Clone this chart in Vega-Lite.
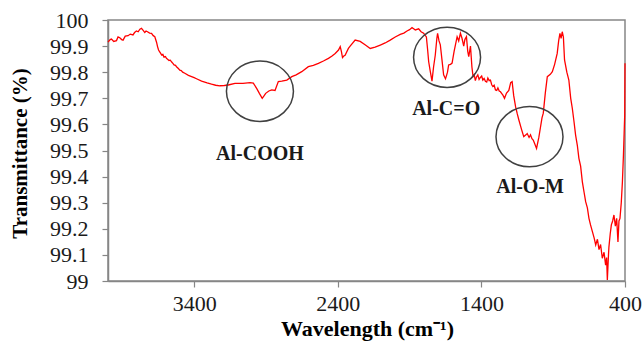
{
  "$schema": "https://vega.github.io/schema/vega-lite/v6.json",
  "width": 517,
  "height": 261,
  "autosize": "none",
  "padding": {"left": 108, "top": 20, "right": 19, "bottom": 65},
  "background": "white",
  "config": {
    "view": {"stroke": "#868686", "strokeWidth": 1.5},
    "font": "Liberation Serif",
    "text": {"font": "Liberation Serif"},
    "axis": {
      "grid": false,
      "domainColor": "#868686",
      "domainWidth": 1.5,
      "tickColor": "#868686",
      "tickWidth": 1.2,
      "tickSize": 6,
      "labelFont": "Liberation Serif",
      "labelFontSize": 22,
      "labelColor": "#1a1a1a",
      "titleFont": "Liberation Serif",
      "titleFontSize": 21,
      "titleFontWeight": "bold",
      "titleColor": "#000000",
      "labelFlush": false,
      "labelOverlap": false
    }
  },
  "datasets": {
    "spectrum": [
      {"wavenumber": 4000, "transmittance": 99.915},
      {"wavenumber": 3985, "transmittance": 99.925},
      {"wavenumber": 3976, "transmittance": 99.927},
      {"wavenumber": 3960, "transmittance": 99.918},
      {"wavenumber": 3941, "transmittance": 99.921},
      {"wavenumber": 3930, "transmittance": 99.935},
      {"wavenumber": 3918, "transmittance": 99.932},
      {"wavenumber": 3905, "transmittance": 99.925},
      {"wavenumber": 3895, "transmittance": 99.923},
      {"wavenumber": 3880, "transmittance": 99.938},
      {"wavenumber": 3860, "transmittance": 99.94},
      {"wavenumber": 3845, "transmittance": 99.946},
      {"wavenumber": 3826, "transmittance": 99.943},
      {"wavenumber": 3815, "transmittance": 99.952},
      {"wavenumber": 3802, "transmittance": 99.958},
      {"wavenumber": 3790, "transmittance": 99.955},
      {"wavenumber": 3778, "transmittance": 99.965},
      {"wavenumber": 3767, "transmittance": 99.968},
      {"wavenumber": 3755, "transmittance": 99.96},
      {"wavenumber": 3744, "transmittance": 99.952},
      {"wavenumber": 3735, "transmittance": 99.958},
      {"wavenumber": 3725, "transmittance": 99.955},
      {"wavenumber": 3710, "transmittance": 99.95},
      {"wavenumber": 3697, "transmittance": 99.949},
      {"wavenumber": 3685, "transmittance": 99.94},
      {"wavenumber": 3674, "transmittance": 99.936},
      {"wavenumber": 3662, "transmittance": 99.915},
      {"wavenumber": 3655, "transmittance": 99.898},
      {"wavenumber": 3648, "transmittance": 99.885},
      {"wavenumber": 3640, "transmittance": 99.878},
      {"wavenumber": 3633, "transmittance": 99.872},
      {"wavenumber": 3627, "transmittance": 99.866},
      {"wavenumber": 3618, "transmittance": 99.868},
      {"wavenumber": 3610, "transmittance": 99.858},
      {"wavenumber": 3600, "transmittance": 99.86},
      {"wavenumber": 3593, "transmittance": 99.853},
      {"wavenumber": 3583, "transmittance": 99.849},
      {"wavenumber": 3575, "transmittance": 99.845},
      {"wavenumber": 3566, "transmittance": 99.846},
      {"wavenumber": 3558, "transmittance": 99.84},
      {"wavenumber": 3548, "transmittance": 99.834},
      {"wavenumber": 3540, "transmittance": 99.828},
      {"wavenumber": 3530, "transmittance": 99.826},
      {"wavenumber": 3523, "transmittance": 99.821},
      {"wavenumber": 3510, "transmittance": 99.814},
      {"wavenumber": 3500, "transmittance": 99.808},
      {"wavenumber": 3490, "transmittance": 99.806},
      {"wavenumber": 3480, "transmittance": 99.8},
      {"wavenumber": 3465, "transmittance": 99.796},
      {"wavenumber": 3440, "transmittance": 99.788},
      {"wavenumber": 3418, "transmittance": 99.783},
      {"wavenumber": 3400, "transmittance": 99.779},
      {"wavenumber": 3380, "transmittance": 99.774},
      {"wavenumber": 3348, "transmittance": 99.766},
      {"wavenumber": 3310, "transmittance": 99.759},
      {"wavenumber": 3279, "transmittance": 99.754},
      {"wavenumber": 3250, "transmittance": 99.75},
      {"wavenumber": 3221, "transmittance": 99.748},
      {"wavenumber": 3190, "transmittance": 99.749},
      {"wavenumber": 3163, "transmittance": 99.751},
      {"wavenumber": 3116, "transmittance": 99.757},
      {"wavenumber": 3060, "transmittance": 99.757},
      {"wavenumber": 3011, "transmittance": 99.76},
      {"wavenumber": 2988, "transmittance": 99.758},
      {"wavenumber": 2965, "transmittance": 99.738},
      {"wavenumber": 2945, "transmittance": 99.718},
      {"wavenumber": 2926, "transmittance": 99.7},
      {"wavenumber": 2915, "transmittance": 99.708},
      {"wavenumber": 2902, "transmittance": 99.719},
      {"wavenumber": 2880, "transmittance": 99.728},
      {"wavenumber": 2860, "transmittance": 99.732},
      {"wavenumber": 2837, "transmittance": 99.73},
      {"wavenumber": 2814, "transmittance": 99.764},
      {"wavenumber": 2790, "transmittance": 99.766},
      {"wavenumber": 2755, "transmittance": 99.77},
      {"wavenumber": 2720, "transmittance": 99.783},
      {"wavenumber": 2690, "transmittance": 99.79},
      {"wavenumber": 2651, "transmittance": 99.802},
      {"wavenumber": 2605, "transmittance": 99.821},
      {"wavenumber": 2570, "transmittance": 99.826},
      {"wavenumber": 2535, "transmittance": 99.834},
      {"wavenumber": 2500, "transmittance": 99.843},
      {"wavenumber": 2465, "transmittance": 99.853},
      {"wavenumber": 2440, "transmittance": 99.862},
      {"wavenumber": 2418, "transmittance": 99.872},
      {"wavenumber": 2395, "transmittance": 99.885},
      {"wavenumber": 2383, "transmittance": 99.898},
      {"wavenumber": 2375, "transmittance": 99.88},
      {"wavenumber": 2367, "transmittance": 99.856},
      {"wavenumber": 2358, "transmittance": 99.862},
      {"wavenumber": 2349, "transmittance": 99.865},
      {"wavenumber": 2326, "transmittance": 99.891},
      {"wavenumber": 2314, "transmittance": 99.9},
      {"wavenumber": 2279, "transmittance": 99.923},
      {"wavenumber": 2244, "transmittance": 99.918},
      {"wavenumber": 2210, "transmittance": 99.905},
      {"wavenumber": 2174, "transmittance": 99.891},
      {"wavenumber": 2140, "transmittance": 99.896},
      {"wavenumber": 2104, "transmittance": 99.904},
      {"wavenumber": 2070, "transmittance": 99.912},
      {"wavenumber": 2035, "transmittance": 99.923},
      {"wavenumber": 2000, "transmittance": 99.935},
      {"wavenumber": 1965, "transmittance": 99.945},
      {"wavenumber": 1940, "transmittance": 99.95},
      {"wavenumber": 1918, "transmittance": 99.958},
      {"wavenumber": 1900, "transmittance": 99.963},
      {"wavenumber": 1883, "transmittance": 99.971},
      {"wavenumber": 1860, "transmittance": 99.962},
      {"wavenumber": 1837, "transmittance": 99.966},
      {"wavenumber": 1820, "transmittance": 99.955},
      {"wavenumber": 1802, "transmittance": 99.949},
      {"wavenumber": 1783, "transmittance": 99.935},
      {"wavenumber": 1775, "transmittance": 99.89},
      {"wavenumber": 1767, "transmittance": 99.84},
      {"wavenumber": 1755, "transmittance": 99.8},
      {"wavenumber": 1744, "transmittance": 99.766},
      {"wavenumber": 1733, "transmittance": 99.82},
      {"wavenumber": 1721, "transmittance": 99.866},
      {"wavenumber": 1710, "transmittance": 99.93},
      {"wavenumber": 1705, "transmittance": 99.949},
      {"wavenumber": 1695, "transmittance": 99.92},
      {"wavenumber": 1686, "transmittance": 99.905},
      {"wavenumber": 1675, "transmittance": 99.85},
      {"wavenumber": 1663, "transmittance": 99.79},
      {"wavenumber": 1650, "transmittance": 99.775},
      {"wavenumber": 1644, "transmittance": 99.785},
      {"wavenumber": 1636, "transmittance": 99.8},
      {"wavenumber": 1628, "transmittance": 99.828},
      {"wavenumber": 1615, "transmittance": 99.83},
      {"wavenumber": 1604, "transmittance": 99.835},
      {"wavenumber": 1590, "transmittance": 99.88},
      {"wavenumber": 1569, "transmittance": 99.936},
      {"wavenumber": 1558, "transmittance": 99.92},
      {"wavenumber": 1546, "transmittance": 99.949},
      {"wavenumber": 1535, "transmittance": 99.93},
      {"wavenumber": 1523, "transmittance": 99.9},
      {"wavenumber": 1515, "transmittance": 99.925},
      {"wavenumber": 1504, "transmittance": 99.936},
      {"wavenumber": 1495, "transmittance": 99.88},
      {"wavenumber": 1488, "transmittance": 99.86},
      {"wavenumber": 1476, "transmittance": 99.9},
      {"wavenumber": 1466, "transmittance": 99.82},
      {"wavenumber": 1458, "transmittance": 99.783},
      {"wavenumber": 1450, "transmittance": 99.79},
      {"wavenumber": 1442, "transmittance": 99.768},
      {"wavenumber": 1434, "transmittance": 99.782},
      {"wavenumber": 1425, "transmittance": 99.79},
      {"wavenumber": 1416, "transmittance": 99.772},
      {"wavenumber": 1407, "transmittance": 99.78},
      {"wavenumber": 1398, "transmittance": 99.785},
      {"wavenumber": 1390, "transmittance": 99.77},
      {"wavenumber": 1381, "transmittance": 99.776},
      {"wavenumber": 1372, "transmittance": 99.765},
      {"wavenumber": 1363, "transmittance": 99.762},
      {"wavenumber": 1355, "transmittance": 99.778},
      {"wavenumber": 1346, "transmittance": 99.768},
      {"wavenumber": 1337, "transmittance": 99.77},
      {"wavenumber": 1328, "transmittance": 99.752},
      {"wavenumber": 1320, "transmittance": 99.745},
      {"wavenumber": 1311, "transmittance": 99.75},
      {"wavenumber": 1302, "transmittance": 99.732},
      {"wavenumber": 1293, "transmittance": 99.73},
      {"wavenumber": 1285, "transmittance": 99.74},
      {"wavenumber": 1276, "transmittance": 99.728},
      {"wavenumber": 1267, "transmittance": 99.725},
      {"wavenumber": 1258, "transmittance": 99.718},
      {"wavenumber": 1250, "transmittance": 99.712},
      {"wavenumber": 1239, "transmittance": 99.7},
      {"wavenumber": 1225, "transmittance": 99.72},
      {"wavenumber": 1209, "transmittance": 99.73},
      {"wavenumber": 1196, "transmittance": 99.76},
      {"wavenumber": 1186, "transmittance": 99.764},
      {"wavenumber": 1175, "transmittance": 99.71},
      {"wavenumber": 1162, "transmittance": 99.668},
      {"wavenumber": 1150, "transmittance": 99.64},
      {"wavenumber": 1139, "transmittance": 99.617},
      {"wavenumber": 1120, "transmittance": 99.58},
      {"wavenumber": 1105, "transmittance": 99.553},
      {"wavenumber": 1090, "transmittance": 99.56},
      {"wavenumber": 1081, "transmittance": 99.565},
      {"wavenumber": 1068, "transmittance": 99.55},
      {"wavenumber": 1058, "transmittance": 99.56},
      {"wavenumber": 1048, "transmittance": 99.545},
      {"wavenumber": 1039, "transmittance": 99.54},
      {"wavenumber": 1028, "transmittance": 99.525},
      {"wavenumber": 1016, "transmittance": 99.508},
      {"wavenumber": 1000, "transmittance": 99.55},
      {"wavenumber": 988, "transmittance": 99.591},
      {"wavenumber": 978, "transmittance": 99.625},
      {"wavenumber": 969, "transmittance": 99.643},
      {"wavenumber": 955, "transmittance": 99.72},
      {"wavenumber": 941, "transmittance": 99.783},
      {"wavenumber": 920, "transmittance": 99.792},
      {"wavenumber": 906, "transmittance": 99.802},
      {"wavenumber": 890, "transmittance": 99.83},
      {"wavenumber": 872, "transmittance": 99.872},
      {"wavenumber": 862, "transmittance": 99.92},
      {"wavenumber": 853, "transmittance": 99.949},
      {"wavenumber": 845, "transmittance": 99.93},
      {"wavenumber": 837, "transmittance": 99.955},
      {"wavenumber": 829, "transmittance": 99.935},
      {"wavenumber": 821, "transmittance": 99.847},
      {"wavenumber": 805, "transmittance": 99.8},
      {"wavenumber": 791, "transmittance": 99.77},
      {"wavenumber": 778, "transmittance": 99.7},
      {"wavenumber": 767, "transmittance": 99.662},
      {"wavenumber": 755, "transmittance": 99.61},
      {"wavenumber": 744, "transmittance": 99.559},
      {"wavenumber": 732, "transmittance": 99.52},
      {"wavenumber": 721, "transmittance": 99.47},
      {"wavenumber": 709, "transmittance": 99.44},
      {"wavenumber": 697, "transmittance": 99.38},
      {"wavenumber": 685, "transmittance": 99.34},
      {"wavenumber": 674, "transmittance": 99.304},
      {"wavenumber": 662, "transmittance": 99.28},
      {"wavenumber": 651, "transmittance": 99.24},
      {"wavenumber": 640, "transmittance": 99.215},
      {"wavenumber": 627, "transmittance": 99.189},
      {"wavenumber": 615, "transmittance": 99.165},
      {"wavenumber": 604, "transmittance": 99.138},
      {"wavenumber": 592, "transmittance": 99.16},
      {"wavenumber": 581, "transmittance": 99.12},
      {"wavenumber": 570, "transmittance": 99.14},
      {"wavenumber": 558, "transmittance": 99.087},
      {"wavenumber": 546, "transmittance": 99.11},
      {"wavenumber": 535, "transmittance": 99.061},
      {"wavenumber": 528, "transmittance": 99.09},
      {"wavenumber": 523, "transmittance": 99.004},
      {"wavenumber": 515, "transmittance": 99.1},
      {"wavenumber": 512, "transmittance": 99.13},
      {"wavenumber": 503, "transmittance": 99.18},
      {"wavenumber": 495, "transmittance": 99.215},
      {"wavenumber": 486, "transmittance": 99.23},
      {"wavenumber": 477, "transmittance": 99.253},
      {"wavenumber": 467, "transmittance": 99.21},
      {"wavenumber": 458, "transmittance": 99.24},
      {"wavenumber": 449, "transmittance": 99.15},
      {"wavenumber": 442, "transmittance": 99.23},
      {"wavenumber": 435, "transmittance": 99.24},
      {"wavenumber": 426, "transmittance": 99.3},
      {"wavenumber": 418, "transmittance": 99.38},
      {"wavenumber": 411, "transmittance": 99.48},
      {"wavenumber": 402, "transmittance": 99.636},
      {"wavenumber": 400, "transmittance": 99.834}
    ],
    "circles": [
      {"group": "Al-COOH", "wavenumber": 2942, "transmittance": 99.727},
      {"group": "Al-C=O", "wavenumber": 1639, "transmittance": 99.857},
      {"group": "Al-O-M", "wavenumber": 1065, "transmittance": 99.553}
    ],
    "labels": [
      {"label": "Al-COOH", "wavenumber": 2942, "transmittance": 99.487},
      {"label": "Al-C=O", "wavenumber": 1645, "transmittance": 99.658},
      {"label": "Al-O-M", "wavenumber": 1061, "transmittance": 99.359}
    ]
  },
  "encoding": {
    "x": {
      "field": "wavenumber",
      "type": "quantitative",
      "scale": {"domain": [400, 4000], "reverse": true, "nice": false, "zero": false},
      "axis": {
        "values": [3400, 2400, 1400, 400],
        "format": "d",
        "labelFont": "Liberation Serif",
        "labelPadding": 6,
        "labelOverlap": false,
        "labelFlush": false,
        "title": "Wavelength (cm⁻¹)",
        "titleFont": "Liberation Serif",
        "titleFontSize": 22,
        "titleBaseline": "alphabetic",
        "titleY": 54,
        "titleX": 259,
        "titleAlign": "center"
      }
    },
    "y": {
      "field": "transmittance",
      "type": "quantitative",
      "scale": {"domain": [99, 100], "nice": false, "zero": false},
      "axis": {
        "values": [99, 99.1, 99.2, 99.3, 99.4, 99.5, 99.6, 99.7, 99.8, 99.9, 100],
        "format": ".1~f",
        "labelFont": "Liberation Serif",
        "labelPadding": 14,
        "labelOverlap": false,
        "labelBound": false,
        "title": "Transmittance  (%)",
        "titleFont": "Liberation Serif",
        "titleAngle": -90,
        "titleAlign": "center",
        "titleBaseline": "middle",
        "titleX": -88,
        "titleY": 133
      }
    }
  },
  "layer": [
    {
      "data": {"name": "spectrum"},
      "mark": {"type": "line", "color": "#ff0000", "strokeWidth": 1.3, "interpolate": "linear"}
    },
    {
      "data": {"name": "circles"},
      "mark": {
        "type": "point",
        "shape": "M-1,0A1,0.9 0 1,1 1,0A1,0.9 0 1,1 -1,0Z",
        "size": 4489,
        "filled": false,
        "stroke": "#404040",
        "strokeWidth": 1.5,
        "opacity": 1
      }
    },
    {
      "data": {"name": "labels"},
      "mark": {
        "type": "text",
        "font": "Liberation Serif",
        "fontWeight": "bold",
        "fontSize": 20,
        "baseline": "middle",
        "align": "center",
        "color": "#1a1a1a"
      },
      "encoding": {
        "text": {"field": "label"}
      }
    }
  ]
}
